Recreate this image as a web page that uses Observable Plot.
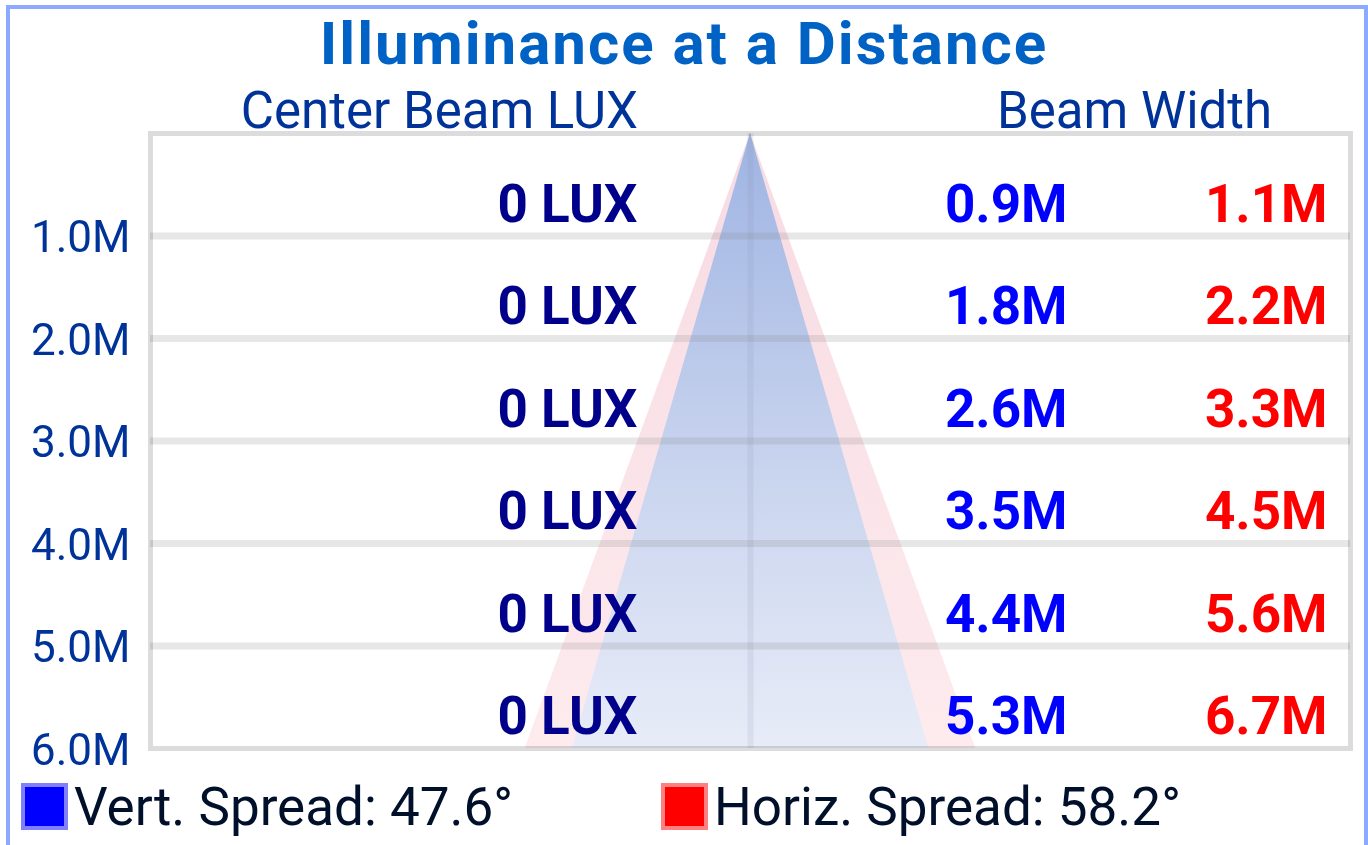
<!DOCTYPE html>
<html>
<head>
<meta charset="utf-8">
<script src="https://cdn.jsdelivr.net/npm/d3@7"></script>
<script src="https://cdn.jsdelivr.net/npm/@observablehq/plot@0.6"></script>
<style>
  html, body { margin: 0; padding: 0; background: #fff; }
  #wrap { position: relative; width: 1368px; height: 845px; overflow: hidden; background: #fff; font-family: Roboto, "DejaVu Sans", sans-serif; }
  #wrap svg { position: absolute; left: 0; top: 0; }
  .abs { position: absolute; line-height: 1; white-space: nowrap; }
  #border { position: absolute; left: 6px; top: 5px; width: 1362px; height: 900px; box-sizing: border-box; border: 4px solid #8caaff; }
</style>
</head>
<body>
<div id="wrap"><div id="border"></div></div>
<script>
// ---- data ----
const titleText = "Illuminance at a Distance";
const luxHeader = "Center Beam LUX";
const widthHeader = "Beam Width";
const distances = [1, 2, 3, 4, 5, 6];               // metres
const luxValues = [0, 0, 0, 0, 0, 0];               // centre beam lux
const vertWidths = [0.9, 1.8, 2.6, 3.5, 4.4, 5.3];  // vertical beam width (m)
const horizWidths = [1.1, 2.2, 3.3, 4.5, 5.6, 6.7]; // horizontal beam width (m)
const seriesNames = ["Vert. Spread", "Horiz. Spread"];
const seriesAngles = [47.6, 58.2];
const seriesColors = ["#0000ff", "#ff0000"];

// triangles: apex at the source (0 m) and the beam width at the last row
const last = distances.length - 1;
const vertTri = [{d: 0, w: 0}, {d: distances[last], w: vertWidths[last]}];
const horizTri = [{d: 0, w: 0}, {d: distances[last], w: horizWidths[last]}];
const xHalf = 8.92;

const font = "Roboto, 'DejaVu Sans', sans-serif";
const valueStyle = {fontSize: 53, fontWeight: "bold", fontFamily: font, dy: -31, frameAnchor: "right", textAnchor: "end"};

const plot = Plot.plot({
  width: 1368,
  height: 845,
  marginTop: 133,
  marginBottom: 97,
  marginLeft: 150,
  marginRight: 18,
  style: {background: "transparent", fontFamily: font},
  x: {domain: [-xHalf, xHalf], axis: null},
  y: {domain: [0, distances[last]], reverse: true},
  marks: [
    Plot.areaX(horizTri, {y: "d", x1: d => -d.w / 2, x2: d => d.w / 2, fill: "url(#redGrad)"}),
    Plot.areaX(vertTri, {y: "d", x1: d => -d.w / 2, x2: d => d.w / 2, fill: "url(#blueGrad)"}),
    Plot.ruleY(distances.slice(0, last), {stroke: "#888888", strokeOpacity: 0.2, strokeWidth: 7}),
    Plot.ruleX([0], {stroke: "#8890a8", strokeOpacity: 0.14, strokeWidth: 6}),
    Plot.frame({stroke: "#dcdcdc", strokeWidth: 5, mixBlendMode: "multiply"}),
    Plot.axisY(distances, {
      tickSize: 0, tickPadding: 20, fontSize: 44, fill: "#003399", color: "#003399",
      tickFormat: d => d.toFixed(1) + "M", label: null, dy: 2
    }),
    Plot.text(distances, {y: d => d, text: (d, i) => luxValues[i] + " LUX", fill: "#00008b", dx: -713, ...valueStyle}),
    Plot.text(distances, {y: d => d, text: (d, i) => vertWidths[i].toFixed(1) + "M", fill: seriesColors[0], dx: -283, ...valueStyle}),
    Plot.text(distances, {y: d => d, text: (d, i) => horizWidths[i].toFixed(1) + "M", fill: seriesColors[1], dx: -23, ...valueStyle})
  ]
});

d3.select(plot).insert("defs", ":first-child").html(`
  <linearGradient id="blueGrad" x1="0" y1="0" x2="0" y2="1">
    <stop offset="0" stop-color="#9fb4e3"/>
    <stop offset="0.5" stop-color="#c5d1ed"/>
    <stop offset="1" stop-color="#e8ecf8"/>
  </linearGradient>
  <linearGradient id="redGrad" x1="0" y1="0" x2="0" y2="1">
    <stop offset="0" stop-color="#f7dbe2"/>
    <stop offset="1" stop-color="#fdebee"/>
  </linearGradient>`);

const wrap = document.getElementById("wrap");
wrap.insertBefore(plot, wrap.firstChild);

function label(text, {left, right, center, baseline, size, weight = "normal", color, spacing = 0}) {
  const el = document.createElement("div");
  el.className = "abs";
  el.textContent = text;
  el.style.fontSize = size + "px";
  el.style.fontWeight = weight;
  el.style.color = color;
  el.style.letterSpacing = spacing + "px";
  el.style.top = (baseline - 0.8418 * size) + "px";
  if (center !== undefined) { el.style.left = "0px"; el.style.width = (2 * center) + "px"; el.style.textAlign = "center"; }
  else if (right !== undefined) { el.style.right = (1368 - right) + "px"; }
  else el.style.left = left + "px";
  wrap.appendChild(el);
  return el;
}

label(titleText, {center: 684, baseline: 65, size: 60, weight: "bold", color: "#0062c4", spacing: 2});
label(luxHeader, {right: 638, baseline: 128, size: 51, color: "#003399"});
label(widthHeader, {left: 997, baseline: 128, size: 51, color: "#003399"});

// legend
const legendX = [21, 661];
seriesNames.forEach((name, i) => {
  const sw = document.createElement("div");
  sw.style.position = "absolute";
  sw.style.left = legendX[i] + "px";
  sw.style.top = "783px";
  sw.style.width = "39px";
  sw.style.height = "39px";
  sw.style.background = seriesColors[i];
  sw.style.border = "4px solid " + (i === 0 ? "#8080ff" : "#ff8080");
  wrap.appendChild(sw);
  label(`${name}: ${seriesAngles[i].toFixed(1)}°`, {left: legendX[i] + 53, baseline: 826, size: 53, color: "#00102a"});
});
</script>
</body>
</html>
